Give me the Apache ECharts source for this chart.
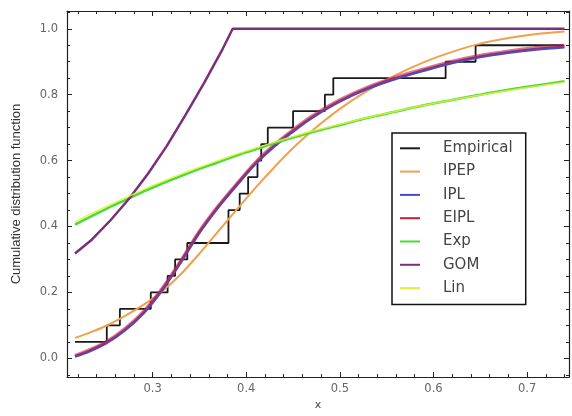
<!DOCTYPE html>
<html><head><meta charset="utf-8">
<script src="https://cdn.jsdelivr.net/npm/echarts@6/dist/echarts.min.js"></script>
<style>html,body{margin:0;padding:0;background:#fff}#c{width:572px;height:416px}</style>
</head><body><div id="c"></div>
<script>
// ---- data ----
const seriesNames = ['Empirical','IPEP','IPL','EIPL','Exp','GOM','Lin'];
const xTickLabels = [0.3,0.4,0.5,0.6,0.7];
const yTickLabels = [0.0,0.2,0.4,0.6,0.8,1.0];

const empiricalX = [0.217,0.251,0.265,0.298,0.316,0.324,0.337,0.381,0.381,0.393,0.402,0.412,0.416,0.423,0.450,0.484,0.493,0.613,0.645,0.739];
const empiricalF = [0.05,0.10,0.15,0.20,0.25,0.30,0.35,0.40,0.45,0.50,0.55,0.60,0.65,0.70,0.75,0.80,0.85,0.90,0.95,0.95];

const curveX = [0.217,0.23,0.25,0.27,0.29,0.31,0.33,0.35,0.37,0.39,0.41,0.43,0.45,0.47,0.50,0.53,0.56,0.59,0.62,0.65,0.68,0.71,0.74];
const ipep = [0.062,0.075,0.098,0.128,0.162,0.203,0.255,0.318,0.385,0.452,0.518,0.580,0.638,0.690,0.757,0.813,0.860,0.899,0.930,0.955,0.972,0.984,0.992];
const ipl  = [0.006,0.019,0.046,0.085,0.137,0.207,0.292,0.382,0.459,0.527,0.591,0.644,0.689,0.730,0.780,0.819,0.849,0.874,0.897,0.915,0.928,0.938,0.945];
const eipl = [0.009,0.023,0.050,0.090,0.142,0.212,0.297,0.387,0.463,0.531,0.596,0.649,0.694,0.735,0.785,0.824,0.854,0.879,0.902,0.920,0.933,0.943,0.950];
const expo = [0.406,0.425,0.453,0.479,0.506,0.530,0.553,0.575,0.595,0.616,0.634,0.653,0.670,0.686,0.708,0.730,0.749,0.768,0.784,0.800,0.815,0.828,0.841];
const lin  = [0.414,0.433,0.460,0.486,0.512,0.536,0.559,0.580,0.600,0.620,0.638,0.656,0.673,0.689,0.710,0.731,0.750,0.768,0.784,0.799,0.813,0.826,0.838];
const gomX = [0.217,0.235,0.255,0.275,0.295,0.315,0.335,0.355,0.375,0.3855,0.74];
const gom  = [0.318,0.360,0.419,0.485,0.560,0.644,0.738,0.836,0.940,1.0,1.0];

const colors = {Empirical:'#1a1a1a', IPEP:'#f2a04c', IPL:'#4b4bc8', EIPL:'#c81e3c', Exp:'#44dd33', GOM:'#7b2f7b', Lin:'#e6ee3a'};

function pairs(xs, ys){ return xs.map((x,i)=>[x, ys[i]]); }
function isTick(v, list){ return list.some(t => Math.abs(t - v) < 1e-6); }

const xMin = 0.2085, xMax = 0.7448, yMin = -0.057, yMax = 1.054;
const frameLine = {show:true, onZero:false, lineStyle:{color:'#222', width:1.2}};
const tick = {show:true, inside:true, length:5, lineStyle:{color:'#222', width:1}};

function mkX(pos, labels){
  return {type:'value', min:xMin, max:xMax, splitNumber:5, position:pos,
    axisLine:frameLine, axisTick:tick,
    minorTick:{show:true, splitNumber:5, length:3, lineStyle:{color:'#222', width:1}},
    splitLine:{show:false},
    axisLabel:{show:labels, margin:6, color:'#666', fontFamily:'DejaVu Sans', fontSize:11.5,
      formatter: v => isTick(v, xTickLabels) ? v.toFixed(1) : ''},
    name: labels ? 'x' : '', nameLocation:'middle', nameGap:22,
    nameTextStyle:{color:'#444', fontFamily:'DejaVu Sans', fontSize:11}};
}
function mkY(pos, labels){
  return {type:'value', min:yMin, max:yMax, splitNumber:5, position:pos,
    axisLine:frameLine, axisTick:tick,
    minorTick:{show:true, splitNumber:4, length:3, lineStyle:{color:'#222', width:1}},
    splitLine:{show:false},
    axisLabel:{show:labels, margin:9, color:'#666', fontFamily:'DejaVu Sans', fontSize:11.5,
      formatter: v => isTick(v, yTickLabels) ? v.toFixed(1) : ''},
    name: labels ? 'Cumulative distribution function' : '', nameLocation:'middle', nameGap:44,
    nameTextStyle:{color:'#333', fontFamily:'Liberation Sans', fontSize:13}};
}

function line(name, data, width, extra){
  return Object.assign({name, type:'line', data, showSymbol:false, symbol:'none',
    xAxisIndex:0, yAxisIndex:0,
    lineStyle:{color:colors[name], width}, itemStyle:{color:colors[name]}}, extra||{});
}

const chart = echarts.init(document.getElementById('c'), null, {renderer:'canvas'});
chart.setOption({
  animation:false,
  backgroundColor:'#fff',
  grid:{left:67, right:2, top:11, bottom:35, containLabel:false},
  xAxis:[mkX('bottom', true), mkX('top', false)],
  yAxis:[mkY('left', true), mkY('right', false)],
  legend:{orient:'vertical', left:392, top:133, icon:'rect', itemWidth:20, itemHeight:2,
    itemGap:7.3, padding:[7.3,13,8.3,8], borderColor:'#111', borderWidth:1.5,
    backgroundColor:'#fff', selectedMode:false,
    textStyle:{fontFamily:'DejaVu Sans', fontSize:15, color:'#444', lineHeight:16, padding:[0,0,0,18]},
    data:seriesNames},
  series:[
    line('Empirical', pairs(empiricalX, empiricalF), 1.8, {step:'end'}),
    line('IPEP', pairs(curveX, ipep), 2, {smooth:0.3}),
    line('IPL', pairs(curveX, ipl), 3, {smooth:0.3}),
    line('EIPL', pairs(curveX, eipl), 3, {smooth:0.3, lineStyle:{color:colors.EIPL, width:3, opacity:0.6}}),
    line('Exp', pairs(curveX, expo), 2.5, {smooth:0.3}),
    line('GOM', pairs(gomX, gom), 2.5, {smooth:false}),
    line('Lin', pairs(curveX, lin), 1.5, {smooth:0.3, lineStyle:{color:colors.Lin, width:1.5, opacity:0.85}})
  ]
});
</script></body></html>
